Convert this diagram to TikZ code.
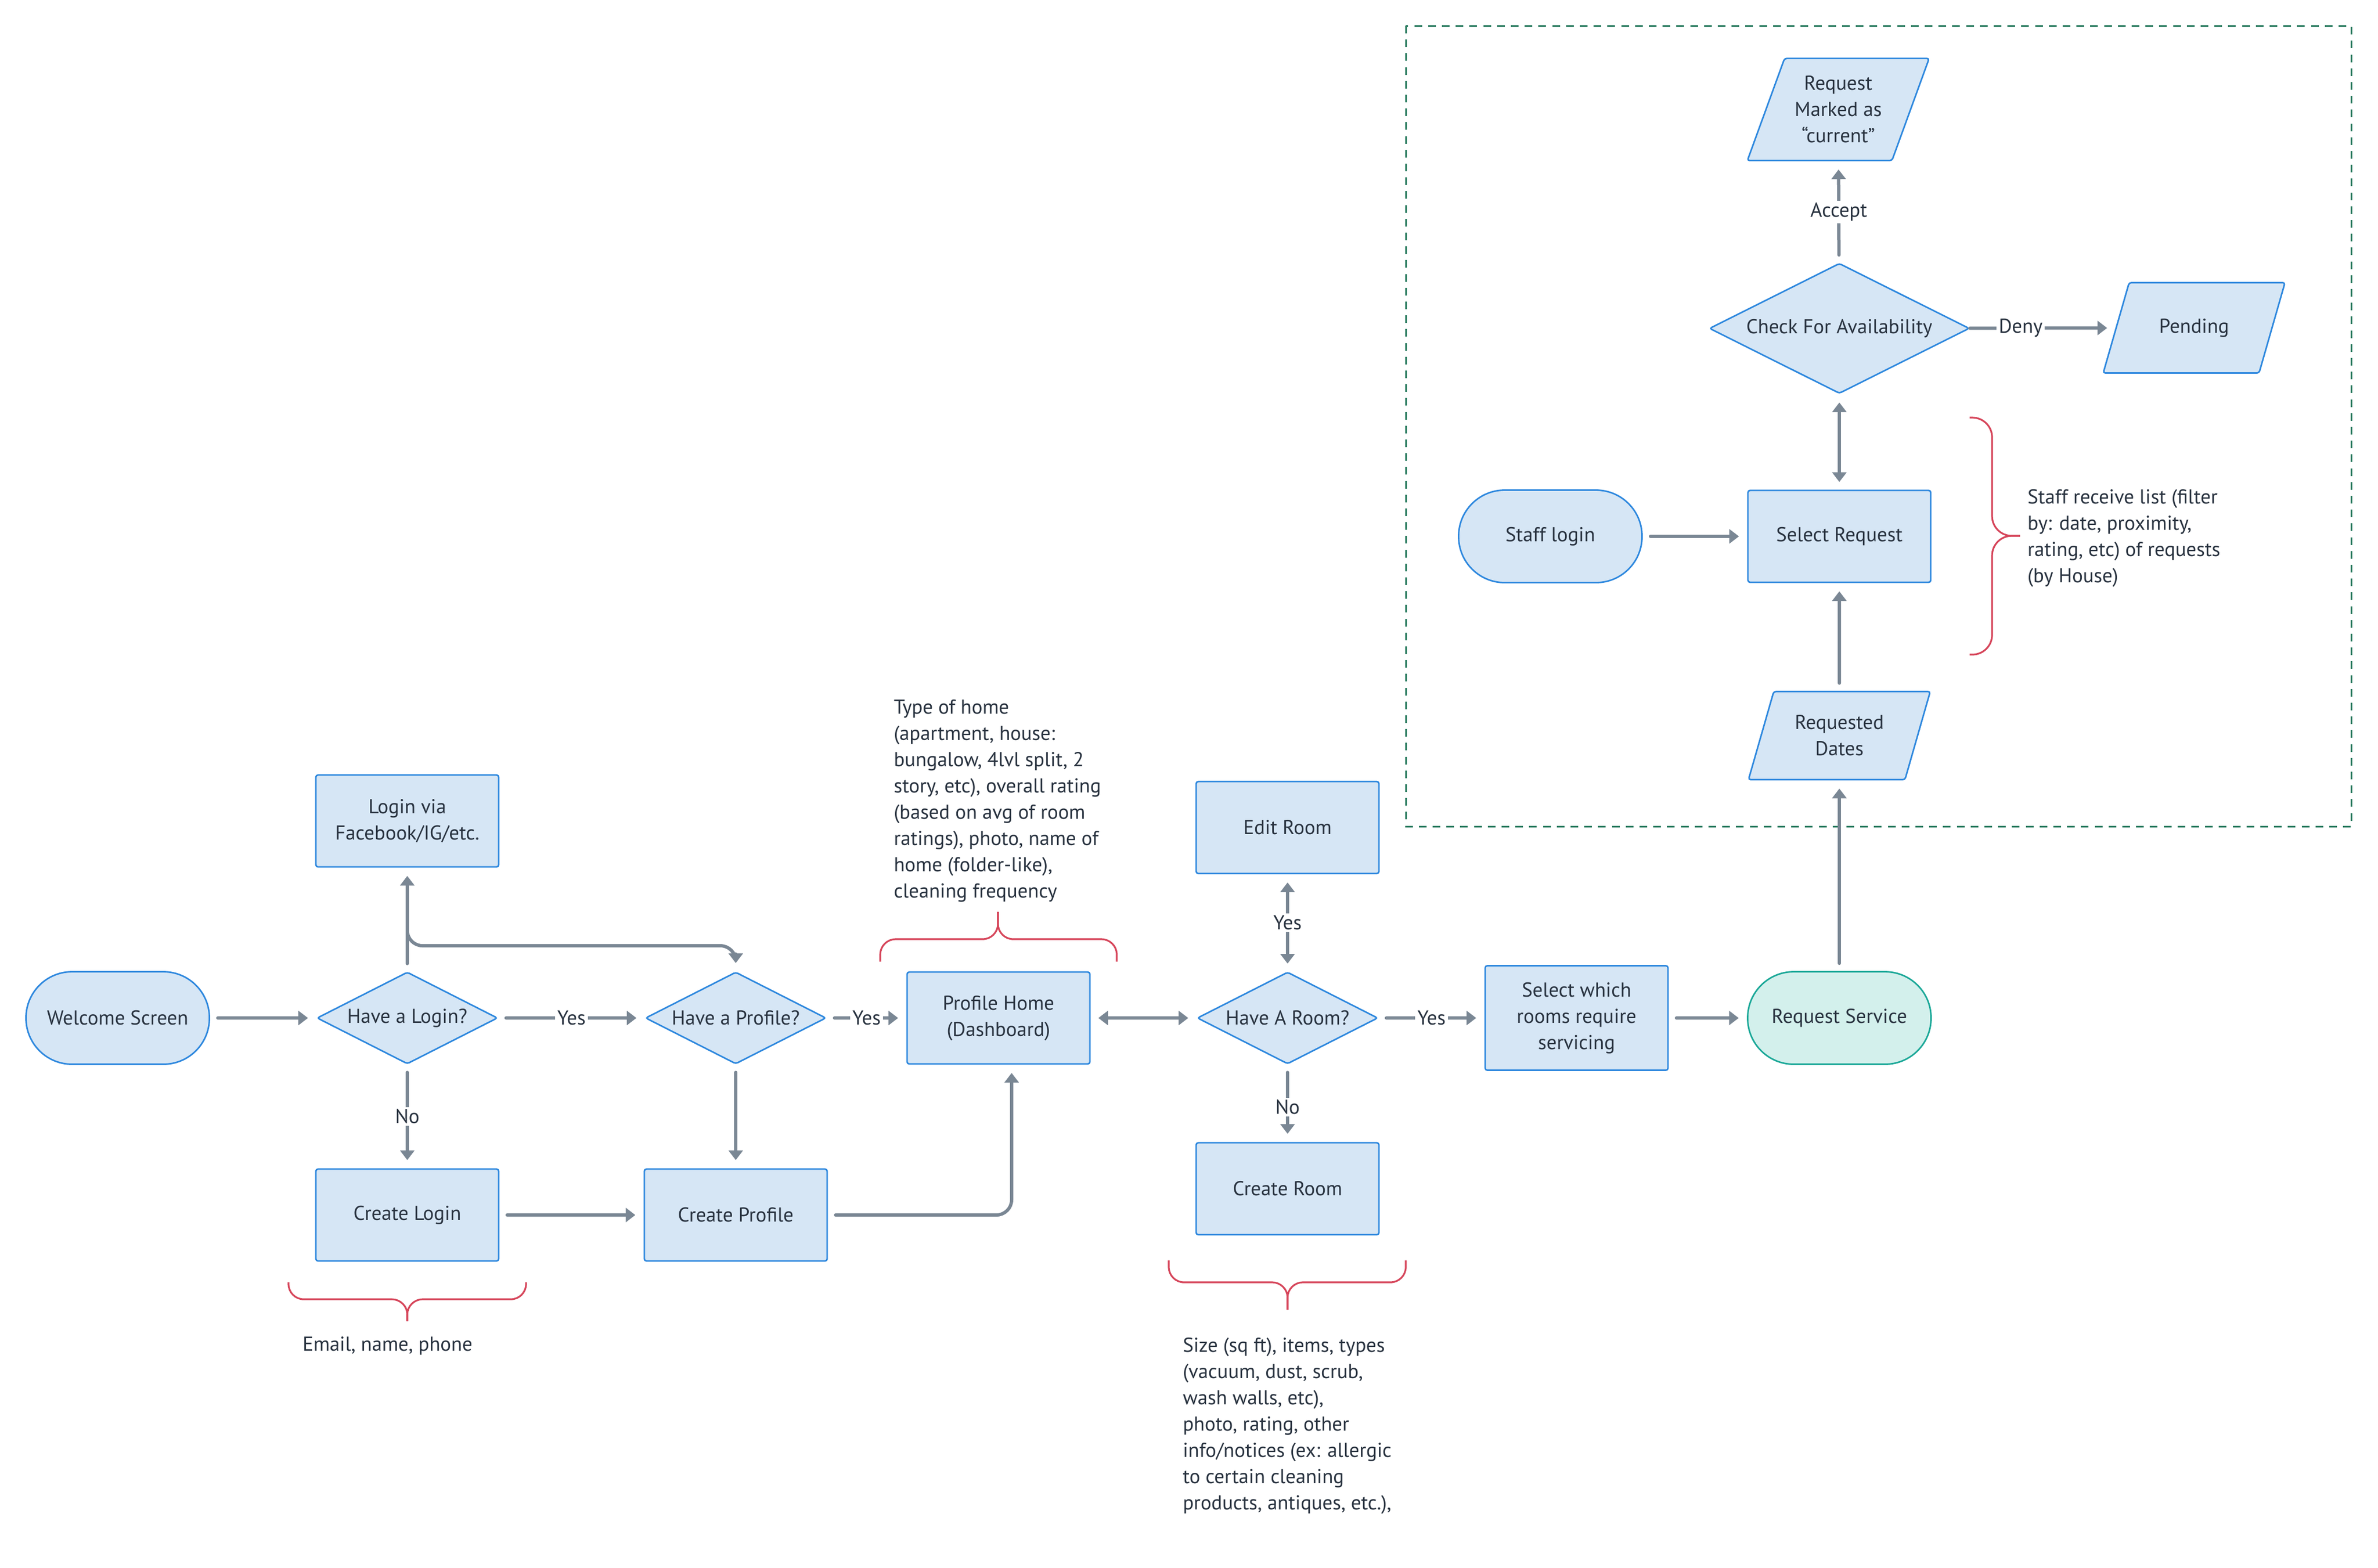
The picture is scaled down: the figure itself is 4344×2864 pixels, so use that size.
\documentclass[tikz,border=0pt]{standalone}
\usepackage{fontspec}
\setmainfont{PT Sans}
\usepackage{xcolor}
\usepackage{tikz}
\usetikzlibrary{shapes.geometric,arrows.meta}

\definecolor{boxfill}{HTML}{D6E6F5}
\definecolor{boxline}{HTML}{2E88DE}
\definecolor{servicefill}{HTML}{D3F0EC}
\definecolor{serviceline}{HTML}{1BA898}
\definecolor{arrowgray}{HTML}{7A8794}
\definecolor{textdark}{HTML}{28323F}
\definecolor{bracered}{HTML}{D6455A}
\definecolor{dashgreen}{HTML}{287A5E}

\begin{document}
\begin{tikzpicture}[x=0.25pt,y=-0.25pt,
    font=\fontsize{9.2}{12}\selectfont, text=textdark,
    >={Triangle[width=6.4pt,length=4.4pt]},
    box/.style={draw=boxline,fill=boxfill,line width=0.7pt,rounded corners=1pt,minimum width=83.5pt,minimum height=42pt,align=center},
    decision/.style={draw=boxline,fill=boxfill,line width=0.7pt,diamond,aspect=2,inner sep=0pt,minimum width=82.5pt,minimum height=42pt,rounded corners=1pt},
    terminal/.style={draw=boxline,fill=boxfill,line width=0.7pt,rounded corners=21pt,minimum width=83.75pt,minimum height=42.25pt},
    io/.style={draw=boxline,fill=boxfill,line width=0.7pt,trapezium,trapezium left angle=74,trapezium right angle=106,trapezium stretches body,minimum width=83pt,align=center,rounded corners=1pt},
    arr/.style={draw=arrowgray,line width=1.5pt,line cap=round,shorten >=3.75pt,shorten <=3.5pt},
    lbl/.style={fill=white,inner sep=1pt},
    note/.style={anchor=north west,align=left,inner sep=0pt},
    curly/.style={draw=bracered,line width=0.8pt,rounded corners=7pt}]
    \path[use as bounding box,fill=white] (0,0) rectangle (4344,2864);

    % staff side
    \draw[draw=dashgreen,line width=0.75pt,dash pattern=on 3.5pt off 2.8pt] (2568,47) rectangle (4295,1510);

    \node[terminal] (welcome) at (215,1860) {Welcome Screen};
    \node[decision] (haslogin) at (744,1860) {Have a Login?};
    \node[box] (loginvia) at (744,1500) {Login via\\Facebook/IG/etc.};
    \node[decision] (hasprofile) at (1344,1860) {Have a Profile?};
    \node[box] (createlogin) at (744,2220) {Create Login};
    \node[box] (createprofile) at (1344,2220) {Create Profile};
    \node[box] (home) at (1824,1860) {Profile Home\\(Dashboard)};
    \node[decision] (hasroom) at (2352,1860) {Have A Room?};
    \node[box] (editroom) at (2352,1512) {Edit Room};
    \node[box] (createroom) at (2352,2172) {Create Room};
    \node[box,minimum height=47.75pt] (selectrooms) at (2880,1860) {Select which\\rooms require\\servicing};
    \node[terminal,draw=serviceline,fill=servicefill] (service) at (3360,1860) {Request Service};
    \node[io,inner ysep=10.8pt] (dates) at (3360,1344) {Requested\\Dates};
    \node[box] (selectreq) at (3360,980) {Select Request};
    \node[terminal] (staff) at (2832,980) {Staff login};
    \node[decision,minimum width=118.75pt,minimum height=59.5pt] (avail) at (3360,600) {Check For Availability};
    \node[io,inner ysep=16.4pt] (pending) at (4008,599) {Pending};
    \node[io,inner ysep=8pt,trapezium left angle=70,trapezium right angle=110] (current) at (3358,200) {Request\\Marked as\\“current”};
    \coordinate (c1) at (1344,1728);

    \draw[arr,->] (welcome) -- (haslogin);
    \draw[arr,->] (haslogin) -- node[lbl] {Yes} (hasprofile);
    \draw[arr,->] (haslogin) -- (loginvia);
    \draw[arr,->,rounded corners=7pt,shorten <=10pt] (loginvia) |- (c1) -- (hasprofile);
    \draw[arr,->] (haslogin) -- node[lbl] {No} (createlogin);
    \draw[arr,->] (hasprofile) -- (createprofile);
    \draw[arr,->] (hasprofile) -- node[lbl] {Yes} (home);
    \draw[arr,->] (createlogin) -- (createprofile);
    \draw[arr,->,rounded corners=7pt] (createprofile) -| ([xshift=6pt]home.south);
    \draw[arr,<->] (home) -- (hasroom);
    \draw[arr,<->] (hasroom) -- node[lbl] {Yes} (editroom);
    \draw[arr,->] (hasroom) -- node[lbl,pos=0.55] {No} (createroom);
    \draw[arr,->] (hasroom) -- node[lbl] {Yes} (selectrooms);
    \draw[arr,->] (selectrooms) -- (service);
    \draw[arr,->] (service) -- (dates);
    \draw[arr,->] (dates) -- (selectreq);
    \draw[arr,->] (staff) -- (selectreq);
    \draw[arr,<->] (selectreq) -- (avail);
    \draw[arr,->] (avail) -- node[lbl] {Accept} (current);
    \draw[arr,->,shorten <=0pt] (avail) -- node[lbl,pos=0.35] {Deny} (pending);

    % braces
    \draw[curly] (527,2343) |- (744,2374) -- (744,2414);
    \draw[curly] (961,2343) |- (744,2374) -- (744,2414);
    \draw[curly] (1608,1757) |- (1823,1716) -- (1823,1666);
    \draw[curly] (2040,1757) |- (1823,1716) -- (1823,1666);
    \draw[curly] (2135,2303) |- (2352,2343) -- (2352,2393);
    \draw[curly] (2568,2303) |- (2352,2343) -- (2352,2393);
    \draw[curly,rounded corners=9pt] (3598,763) -| (3639,979) -- (3690,979);
    \draw[curly,rounded corners=9pt] (3598,1196) -| (3639,979) -- (3690,979);

    \node[note] (loginnote) at (552,2442) {Email, name, phone};
    \node[note] (homenote) at (1632,1278) {Type of home\\(apartment, house:\\bungalow, 4lvl split, 2\\story, etc), overall rating\\(based on avg of room\\ratings), photo, name of\\home (folder-like),\\cleaning frequency};
    \node[note] (roomnote) at (2160,2443) {Size (sq ft), items, types\\(vacuum, dust, scrub,\\wash walls, etc),\\photo, rating, other\\info/notices (ex: allergic\\to certain cleaning\\products, antiques, etc.),};
    \node[note] (staffnote) at (3703,893) {Staff receive list (filter\\by: date, proximity,\\rating, etc) of requests\\(by House)};
\end{tikzpicture}
\end{document}
